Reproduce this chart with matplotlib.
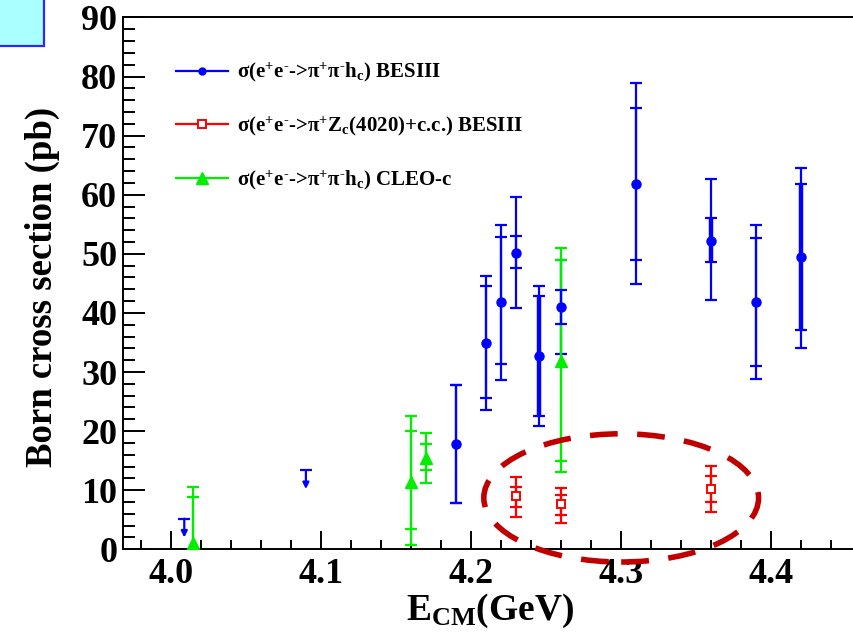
import matplotlib
matplotlib.use('Agg')
import matplotlib.pyplot as plt
from matplotlib.lines import Line2D
from matplotlib.patches import Ellipse, Rectangle
from matplotlib.ticker import MultipleLocator, FormatStrFormatter

plt.rcParams['font.family'] = ['Liberation Serif', 'DejaVu Serif']
plt.rcParams['font.weight'] = 'bold'
plt.rcParams['mathtext.default'] = 'regular'

# sigma(e+e- -> pi+ pi- hc), BESIII : value, stat (+/-), total (+/-)
bes_e = [4.19, 4.21, 4.22, 4.23, 4.245, 4.26, 4.31, 4.36, 4.39, 4.42]
bes_sigma = [17.8, 34.9, 41.9, 50.2, 32.7, 41.0, 61.9, 52.2, 41.8, 49.5]
bes_stat_up = [10.0, 9.7, 11.0, 2.9, 10.2, 2.8, 12.8, 3.9, 10.9, 12.4]
bes_stat_dn = [10.0, 9.3, 10.5, 2.6, 10.1, 2.8, 12.9, 3.5, 10.8, 12.4]
bes_tot_up = [10.0, 11.4, 12.9, 9.5, 11.9, 8.0, 17.0, 10.4, 13.0, 15.1]
bes_tot_dn = [10.0, 11.3, 13.2, 9.4, 11.8, 8.0, 17.0, 10.0, 13.0, 15.4]
bes_thick = [4.245, 4.36, 4.42]          # points drawn with heavier stat bars

# BESIII upper limits
ul_e = [4.009, 4.09]
ul_sigma = [5.2, 13.4]

# sigma(e+e- -> pi+ Zc(4020) + c.c.), BESIII
zc_e = [4.23, 4.26, 4.36]
zc_sigma = [9.0, 7.6, 10.2]
zc_stat_up = [1.6, 1.6, 2.2]
zc_stat_dn = [1.9, 1.8, 2.2]
zc_tot_up = [3.2, 2.7, 3.9]
zc_tot_dn = [3.6, 3.1, 3.9]

# sigma(e+e- -> pi+ pi- hc), CLEO-c
cleo_e = [4.015, 4.16, 4.17, 4.26]
cleo_sigma = [1.0, 11.4, 15.4, 31.8]
cleo_stat_up = [7.9, 8.7, 2.4, 17.2]
cleo_stat_dn = [7.9, 7.9, 2.0, 16.8]
cleo_tot_up = [9.6, 11.2, 4.3, 19.2]
cleo_tot_dn = [9.6, 10.6, 4.1, 18.7]

labels = ['$\\sigma$(e$^{+}$e$^{\u2010}$->$\\pi^{+}\\pi^{\u2010}$h$_{c}$) BESIII',
          '$\\sigma$(e$^{+}$e$^{\u2010}$->$\\pi^{+}$Z$_{c}$(4020)+c.c.) BESIII',
          '$\\sigma$(e$^{+}$e$^{\u2010}$->$\\pi^{+}\\pi^{\u2010}$h$_{c}$) CLEO-c']

BLUE, RED, GREEN = '#0000ff', '#ff0000', '#00ee00'

fig = plt.figure(figsize=(8.54, 6.36), dpi=100)
ax = fig.add_axes([0.1437, 0.1363, 0.8817, 0.8362])

ekw = dict(fmt='none', elinewidth=1.6, capsize=4.5, capthick=1.6)

# total errors first, CLEO-c on top, then stat errors and markers
ax.errorbar(bes_e, bes_sigma, yerr=[bes_tot_dn, bes_tot_up], ecolor=BLUE, zorder=2, **ekw)
ax.errorbar(cleo_e, cleo_sigma, yerr=[cleo_tot_dn, cleo_tot_up], ecolor=GREEN, zorder=3, **ekw)
ax.errorbar(cleo_e, cleo_sigma, yerr=[cleo_stat_dn, cleo_stat_up], ecolor=GREEN, zorder=3, **ekw)
ax.plot(cleo_e, cleo_sigma, '^', color=GREEN, ms=9, zorder=3.5)

for e, s, dn, up in zip(bes_e, bes_sigma, bes_stat_dn, bes_stat_up):
    lw = 3.2 if e in bes_thick else 1.6
    ax.errorbar([e], [s], yerr=[[dn], [up]], fmt='none', ecolor=BLUE,
                elinewidth=lw, capsize=4.5, capthick=1.6, zorder=4)
ax.plot(bes_e, bes_sigma, 'o', color=BLUE, ms=6.5, zorder=4.5)

ax.errorbar(zc_e, zc_sigma, yerr=[zc_tot_dn, zc_tot_up], ecolor=RED, zorder=4, **ekw)
ax.errorbar(zc_e, zc_sigma, yerr=[zc_stat_dn, zc_stat_up], ecolor=RED, zorder=4, **ekw)
ax.plot(zc_e, zc_sigma, 's', color=RED, mfc='white', mew=1.4, ms=5.5, zorder=4.5)

# upper limits: cap + downward arrow
ax.plot(ul_e, ul_sigma, '_', color=BLUE, ms=9, mew=1.6, zorder=4)
for e, s in zip(ul_e, ul_sigma):
    ax.annotate('', xy=(e, s - 3.2), xytext=(e, s),
                arrowprops=dict(arrowstyle='-|>', color=BLUE, lw=1.6,
                                mutation_scale=9, shrinkA=0, shrinkB=0), zorder=4)

# highlight around the Zc(4020) points
ax.add_patch(Ellipse((4.30, 8.7), 0.183, 21.7, fill=False, edgecolor='#c00000',
                     lw=4, linestyle=(0, (5, 3.5)), clip_on=False, zorder=6))

ax.set_xlim(3.968, 4.4695)
ax.set_ylim(0, 90)
ax.xaxis.set_major_locator(MultipleLocator(0.1))
ax.xaxis.set_minor_locator(MultipleLocator(0.02))
ax.yaxis.set_major_locator(MultipleLocator(10))
ax.yaxis.set_minor_locator(MultipleLocator(2))
ax.xaxis.set_major_formatter(FormatStrFormatter('%.1f'))

ax.tick_params(axis='both', which='both', direction='in', width=1.4, labelsize=26,
               top=False, right=False)
ax.tick_params(axis='y', which='major', length=16, pad=4)
ax.tick_params(axis='y', which='minor', length=8.5)
ax.tick_params(axis='x', which='major', length=13, pad=6)
ax.tick_params(axis='x', which='minor', length=6.5)
for sp in ax.spines.values():
    sp.set_linewidth(1.4)

ax.set_xlabel(r'E$_{CM}$(GeV)', fontsize=27, fontweight='bold')
ax.set_ylabel('Born cross section (pb)', fontsize=26.5, fontweight='bold')
ax.xaxis.set_label_coords(0.488, -0.079)
ax.yaxis.set_label_coords(-0.083, 0.493)

handles = [Line2D([], [], color=BLUE, marker='o', ms=5, lw=1.6),
           Line2D([], [], color=RED, marker='s', mfc='white', mew=1.4, ms=6, lw=1.6),
           Line2D([], [], color=GREEN, marker='^', ms=8, lw=1.6)]
ax.legend(handles, labels, loc='upper left', bbox_to_anchor=(176 / 854, 1 - 61 / 636),
          bbox_transform=fig.transFigure, frameon=False, fontsize=15,
          handlelength=2.5, handletextpad=0.45, labelspacing=1.45,
          borderpad=0, borderaxespad=0)

# fragment of a slide element at the top-left corner
fig.patches.append(Rectangle((-0.01, 1 - 46 / 636), 0.01 + 44 / 854, 0.1,
                             transform=fig.transFigure, facecolor='#aaffff',
                             edgecolor='#2a2aff', lw=1.6))

fig.savefig('out.png', dpi=100)
